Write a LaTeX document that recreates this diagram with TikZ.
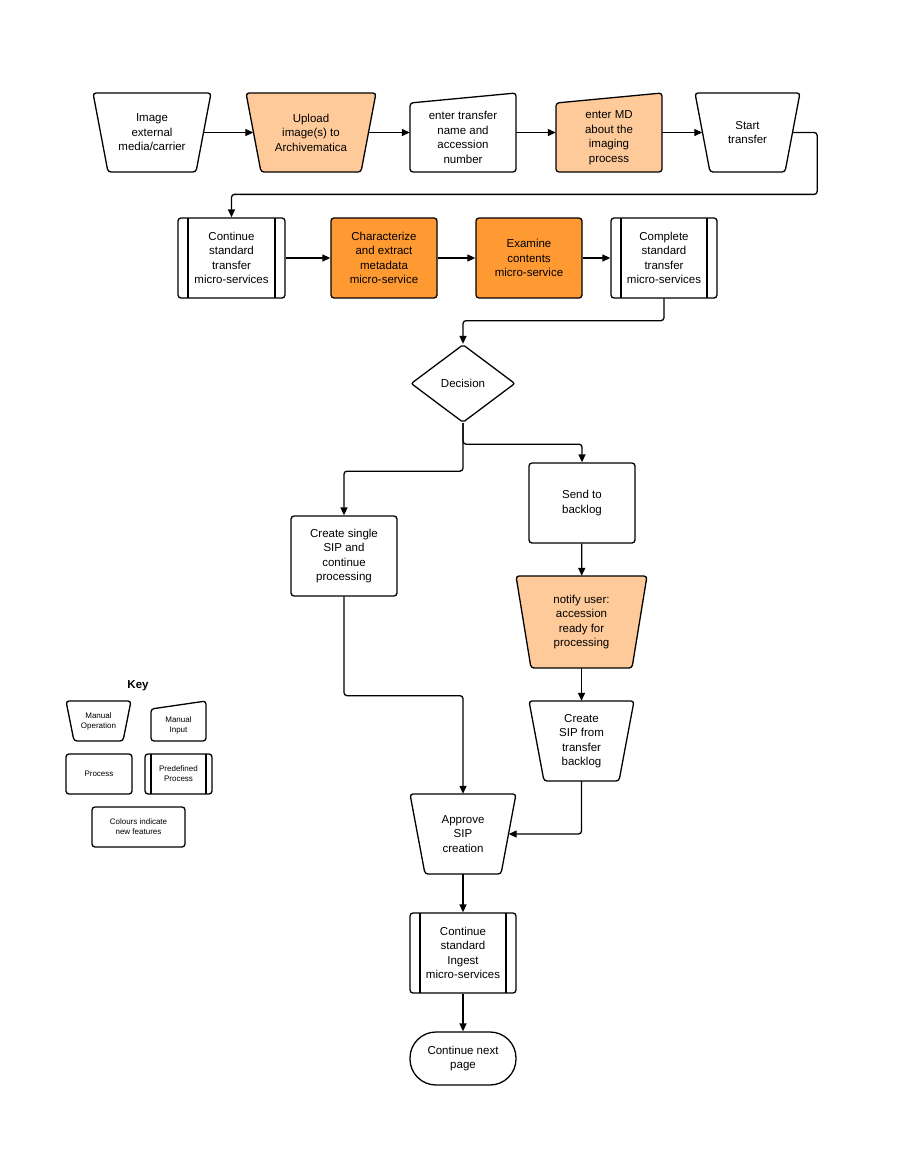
\documentclass[tikz,border=0pt]{standalone}
\usepackage{fontspec}
\setmainfont{Liberation Sans}
\usetikzlibrary{shapes.geometric,arrows.meta,calc}
\definecolor{lo}{HTML}{FFCA99}
\definecolor{do}{HTML}{FF9A33}
\tikzset{
 shp/.style={draw=black,line width=1.3pt,rounded corners=3pt},
 txt/.style={font=\fontsize{11.5}{14.5}\selectfont,align=center,inner sep=0pt},
 ktxt/.style={font=\fontsize{8}{10}\selectfont,align=center,inner sep=0pt},
 ar/.style={draw=black,line width=1.3pt,rounded corners=3pt,-{Triangle[length=8pt,width=7pt]}},
}
% name,x1,y1,x2,y2,fill,inset,text,style
\newcommand\Trap[9]{%
 \filldraw[shp,fill=#6] (#2,#3) -- (#4,#3) -- ({#4-#7},#5) -- ({#2+#7},#5) -- cycle;
 \node[#9,minimum width={#4-#2-#7},minimum height={#5-#3}] (#1) at ({(#2+#4)/2},{(#3+#5)/2}) {#8};}
\newcommand\Inp[9]{%
 \filldraw[shp,fill=#6] (#2,{#3+#7}) -- (#4,#3) -- (#4,#5) -- (#2,#5) -- cycle;
 \node[inner sep=0pt,minimum width={#4-#2},minimum height={#5-#3}] (#1) at ({(#2+#4)/2},{(#3+#5)/2}) {};
 \node[#9] at ($(#1)+(0,{#7/2})$) {#8};}
\newcommand\Rect[8]{%
 \node[shp,fill=#6,#8,minimum width={#4-#2},minimum height={#5-#3}] (#1) at ({(#2+#4)/2},{(#3+#5)/2}) {#7};}
\newcommand\Pred[8]{%
 \Rect{#1}{#2}{#3}{#4}{#5}{white}{#7}{#8}
 \draw[line width=1.3pt] ({#2+#6},#3) -- ({#2+#6},#5) ({#4-#6},#3) -- ({#4-#6},#5);}
\begin{document}
\begin{tikzpicture}[x=1pt,y=-1pt]
\useasboundingbox (0,0) rectangle (900,1165);
% row 1
\Trap{img}{93}{93}{211}{172}{white}{15}{Image\\external\\media/carrier}{txt}
\Trap{upl}{246}{93}{376}{172}{lo}{15}{Upload\\image(s) to\\Archivematica}{txt}
\Inp{ent}{410}{93}{516}{172}{white}{10}{enter transfer\\name and\\accession\\number}{txt}
\Inp{md}{556}{93}{662}{172}{lo}{10}{enter MD\\about the\\imaging\\process}{txt}
\Trap{st}{695}{93}{800}{172}{white}{15}{Start\\transfer}{txt}
% row 2
\Pred{cont}{178}{218}{285}{298}{10}{Continue\\standard\\transfer\\micro-services}{txt}
\Rect{char}{331}{218}{437}{298}{do}{Characterize\\and extract\\metadata\\micro-service}{txt}
\Rect{exam}{476}{218}{582}{298}{do}{Examine\\contents\\micro-service}{txt}
\Pred{comp}{611}{218}{717}{298}{10}{Complete\\standard\\transfer\\micro-services}{txt}
% decision
\node[diamond,shp,rounded corners=2pt,fill=white,minimum width=104pt,minimum height=78pt,inner sep=0pt,txt] (dec) at (463,383.5) {Decision};
\Rect{back}{529}{463}{635}{543}{white}{Send to\\backlog}{txt}
\Trap{notify}{516}{576}{647}{668}{lo}{15}{notify user:\\accession\\ready for\\processing}{txt}
\Trap{csb}{529}{701}{634}{781}{white}{15}{Create\\SIP from\\transfer\\backlog}{txt}
\Rect{single}{291}{516}{397}{596}{white}{Create single\\SIP and\\continue\\processing}{txt}
\Trap{appr}{410}{794}{516}{874}{white}{15}{Approve\\SIP\\creation}{txt}
\Pred{ing}{410}{913}{516}{993}{10}{Continue\\standard\\Ingest\\micro-services}{txt}
\node[shp,rounded corners=26pt,minimum width=106pt,minimum height=53pt,txt] (next) at (463,1058.5) {Continue next\\page};
% key
\node[font=\fontsize{11.5}{14}\selectfont\bfseries] (key) at (138,686) {Key};
\Trap{kmo}{66}{701}{131}{741}{white}{8}{Manual\\Operation}{ktxt}
\Inp{kmi}{151}{701}{206}{741}{white}{8}{Manual\\Input}{ktxt}
\Rect{kp}{66}{754}{132}{794}{white}{Process}{ktxt}
\Pred{kpp}{145}{754}{212}{794}{6}{Predefined\\Process}{ktxt}
\Rect{kc}{92}{807}{185}{847}{white}{Colours indicate\\new features}{ktxt}
% connectors
\draw[ar] (img.east) -- (img.east -| upl.west);
\draw[ar] (upl.east) -- (upl.east -| ent.west);
\draw[ar] (ent.east |- upl.east) -- (upl.east -| md.west);
\draw[ar] (md.east |- st.west) -- (st.west);
\draw[ar] (st.east) -- ++(24.5,0) |- ($(cont.north)+(0,-23)$) -- (cont.north);
\draw[ar] (cont) -- (char);
\draw[ar] (char) -- (exam);
\draw[ar] (exam) -- (comp);
\draw[ar] (comp.south) -- ++(0,22) -| (dec.north);
\draw[ar] (dec.south) -- ++(0,21) -| (back.north);
\draw[ar] (dec.south) -- ++(0,48) -| (single.north);
\draw[ar] (back) -- (notify);
\draw[ar] (notify) -- (csb);
\draw[ar] (single.south) -- ++(0,99) -| (appr.north);
\draw[ar] (csb.south) |- (appr.east);
\draw[ar] (appr) -- (ing);
\draw[ar] (ing) -- (next);
\end{tikzpicture}
\end{document}
